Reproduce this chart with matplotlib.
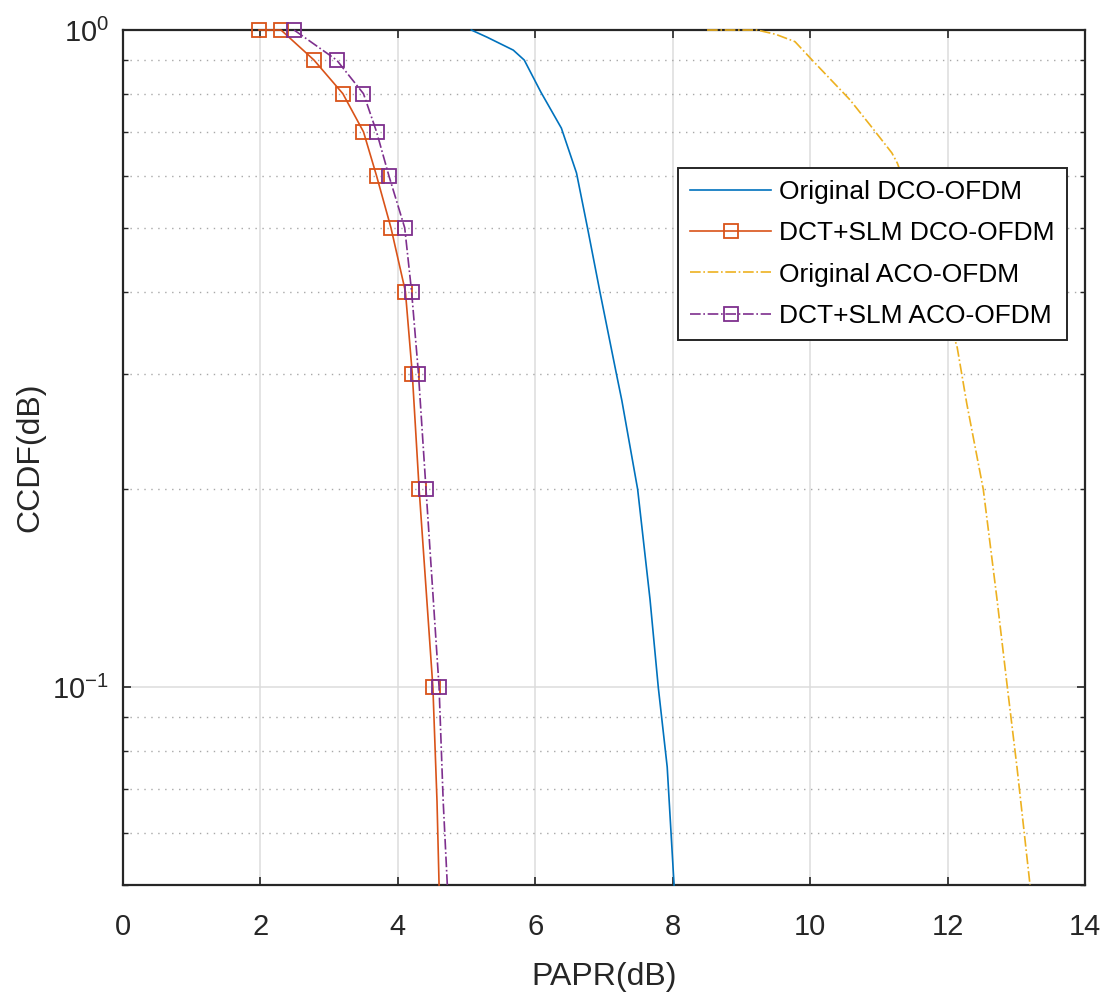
import numpy as np
import matplotlib
matplotlib.use('Agg')
import matplotlib.pyplot as plt
from matplotlib.ticker import LogLocator, NullFormatter, FixedLocator

plt.rcParams['font.family'] = ['Liberation Sans', 'DejaVu Sans']
plt.rcParams['mathtext.fontset'] = 'custom'
plt.rcParams['mathtext.rm'] = 'Liberation Sans'

# CCDF curves (PAPR in dB, CCDF)
dco_orig_x = [5.07, 5.30, 5.68, 5.84, 6.08, 6.38, 6.60, 6.76, 6.94, 7.18, 7.26, 7.49, 7.67, 7.79, 7.92, 8.02]
dco_orig_y = [1.0, 0.975, 0.932, 0.9, 0.805, 0.709, 0.606, 0.5, 0.4, 0.3, 0.273, 0.2, 0.136, 0.1, 0.0756, 0.05]

dco_slm_x = [1.98, 2.30, 2.78, 3.20, 3.50, 3.69, 3.90, 4.11, 4.21, 4.31, 4.51, 4.57, 4.60]
dco_slm_y = [1.0, 1.0, 0.9, 0.8, 0.7, 0.6, 0.5, 0.4, 0.3, 0.2, 0.1, 0.067, 0.05]

aco_orig_x = [8.50, 9.23, 9.50, 9.78, 10.03, 10.58, 10.89, 11.19, 11.27, 11.70, 12.14, 12.28, 12.52, 12.72, 12.87, 13.01, 13.20]
aco_orig_y = [1.0, 1.0, 0.985, 0.96, 0.9, 0.783, 0.713, 0.65, 0.627, 0.47, 0.329, 0.27, 0.2, 0.136, 0.1, 0.0756, 0.05]

aco_slm_x = [2.49, 3.11, 3.50, 3.69, 3.87, 4.10, 4.20, 4.30, 4.41, 4.60, 4.66, 4.72]
aco_slm_y = [1.0, 0.9, 0.8, 0.7, 0.6, 0.5, 0.4, 0.3, 0.2, 0.1, 0.067, 0.05]

fig = plt.figure(figsize=(11.12, 9.94), dpi=100)
ax = fig.add_axes([0.1106, 0.1097, 0.8651, 0.8601])

common = dict(lw=1.2, clip_on=False, zorder=3)
ax.semilogy(dco_orig_x, dco_orig_y, color='#0072BD', label='Original DCO-OFDM', **common)
ax.semilogy(dco_slm_x, dco_slm_y, color='#D95319', marker='s', ms=10.5, mfc='none', mew=1.3,
            markevery=list(range(11)), label='DCT+SLM DCO-OFDM', **common)
ax.semilogy(aco_orig_x, aco_orig_y, color='#EDB120', ls='-.', label='Original ACO-OFDM', **common)
ax.semilogy(aco_slm_x, aco_slm_y, color='#7E2F8E', ls='-.', marker='s', ms=10.5, mfc='none', mew=1.3,
            markevery=list(range(10)), label='DCT+SLM ACO-OFDM', **common)

ax.set_xlim(0, 14)
ax.set_ylim(0.05, 1)
ax.set_xticks(np.arange(0, 15, 2))
ax.yaxis.set_major_locator(FixedLocator([0.1, 1.0]))
ax.yaxis.set_minor_locator(LogLocator(base=10, subs=np.arange(2, 10)))
ax.yaxis.set_minor_formatter(NullFormatter())

ax.grid(True, which='major', color='#dcdcdc', lw=1.1, ls='-')
ax.grid(True, which='minor', axis='y', color='#a8a8a8', lw=1.0, ls=(0, (1, 4)))
ax.set_axisbelow(True)

ax.tick_params(which='both', direction='in', top=True, right=True, colors='#262626')
ax.tick_params(which='major', length=6, width=1.2, labelsize=21)
ax.tick_params(axis='x', pad=20)
ax.tick_params(axis='y', pad=10)
ax.tick_params(which='minor', length=3.5, width=1.0)
for s in ax.spines.values():
    s.set_color('#262626')
    s.set_linewidth(1.6)

ax.set_xlabel('PAPR(dB)', fontsize=23, color='#262626', labelpad=15)
ax.set_ylabel('CCDF(dB)', fontsize=23, color='#262626', labelpad=5)

leg = ax.legend(loc='upper right', bbox_to_anchor=(0.981, 0.8386), fontsize=19,
                frameon=True, fancybox=False, edgecolor='#262626', framealpha=1,
                handlelength=3.1, handletextpad=0.3, labelspacing=0.66, borderpad=0.45,
                borderaxespad=0)
leg.get_frame().set_linewidth(1.4)
leg.set_zorder(5)

fig.savefig('out.png', dpi=100)
